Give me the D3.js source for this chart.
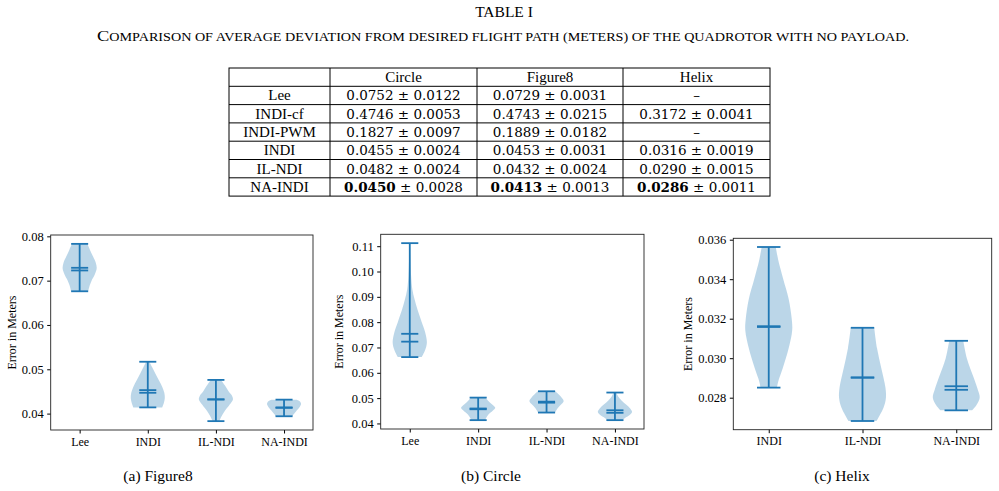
<!DOCTYPE html>
<html>
<head>
<meta charset="utf-8">
<script src="https://cdn.jsdelivr.net/npm/d3@7"></script>
<style>
  body { margin: 0; background: #fff; }
  svg { display: block; }
  text { font-family: "Liberation Serif", "Times New Roman", serif; fill: #000; }
</style>
</head>
<body>
<div id="chart"></div>
<script>
// ---- table data ----
const tableMethods = ["Lee", "INDI-cf", "INDI-PWM", "INDI", "IL-NDI", "NA-INDI"];
const tableColumns = ["Circle", "Figure8", "Helix"];
const circleMeanText = ["0.0752", "0.4746", "0.1827", "0.0455", "0.0482", "0.0450"];
const circleStdText = ["0.0122", "0.0053", "0.0097", "0.0024", "0.0024", "0.0028"];
const figure8MeanText = ["0.0729", "0.4743", "0.1889", "0.0453", "0.0432", "0.0413"];
const figure8StdText = ["0.0031", "0.0215", "0.0182", "0.0031", "0.0024", "0.0013"];
const helixMeanText = [null, "0.3172", null, "0.0316", "0.0290", "0.0286"];
const helixStdText = [null, "0.0041", null, "0.0019", "0.0015", "0.0011"];
const boldMethod = "NA-INDI";

// ---- violin data ----
// shapes: [value, relative half width]
const figure8Methods = ["Lee", "INDI", "IL-NDI", "NA-INDI"];
const figure8Min = [0.0676, 0.0414, 0.0383, 0.0394];
const figure8Max = [0.0783, 0.0517, 0.0476, 0.04315];
const figure8Mean = [0.0729, 0.0453, 0.0432, 0.0414];
const figure8Median = [0.0723, 0.0447, 0.0432, 0.0413];
const figure8Shapes = [
  [[0.0783, 0.45], [0.0770, 0.6], [0.0755, 0.78], [0.0740, 0.95], [0.0728, 1.0], [0.0715, 0.9], [0.0700, 0.7], [0.0690, 0.6], [0.0676, 0.5]],
  [[0.0517, 0.1], [0.0505, 0.25], [0.0490, 0.45], [0.0475, 0.65], [0.0460, 0.85], [0.0447, 0.97], [0.0435, 1.0], [0.0425, 0.95], [0.0414, 0.85]],
  [[0.0476, 0.3], [0.0465, 0.5], [0.0450, 0.75], [0.0440, 0.95], [0.0432, 1.0], [0.0420, 0.8], [0.0405, 0.5], [0.0392, 0.3], [0.0383, 0.2]],
  [[0.04315, 0.75], [0.0428, 0.92], [0.0422, 1.0], [0.0415, 0.92], [0.0405, 0.7], [0.0398, 0.55], [0.0394, 0.5]]
];

const circleMethods = ["Lee", "INDI", "IL-NDI", "NA-INDI"];
const circleMin = [0.0662, 0.0413, 0.0443, 0.0413];
const circleMax = [0.1112, 0.0502, 0.0527, 0.0522];
const circleMean = [0.0754, 0.0456, 0.0482, 0.0452];
const circleMedian = [0.0723, 0.0459, 0.0486, 0.0442];
const circleShapes = [
  [[0.1112, 0.02], [0.105, 0.04], [0.098, 0.08], [0.093, 0.15], [0.089, 0.28], [0.085, 0.45], [0.080, 0.7], [0.076, 0.9], [0.072, 1.0], [0.069, 0.9], [0.0662, 0.7]],
  [[0.0502, 0.4], [0.0490, 0.58], [0.0475, 0.82], [0.0462, 1.0], [0.0450, 0.85], [0.0435, 0.6], [0.0420, 0.45], [0.0413, 0.4]],
  [[0.0527, 0.5], [0.0515, 0.7], [0.0500, 0.9], [0.0488, 1.0], [0.0475, 0.85], [0.0460, 0.65], [0.0443, 0.5]],
  [[0.0522, 0.08], [0.0505, 0.2], [0.0490, 0.4], [0.0475, 0.65], [0.0460, 0.88], [0.0445, 1.0], [0.0430, 0.8], [0.0420, 0.55], [0.0413, 0.45]]
];

const helixMethods = ["INDI", "IL-NDI", "NA-INDI"];
const helixMin = [0.02851, 0.02682, 0.02736];
const helixMax = [0.03563, 0.03154, 0.03088];
const helixMean = [0.03162, 0.02903, 0.02858];
const helixMedian = [0.03158, 0.02901, 0.02840];
const helixShapes = [
  [[0.03563, 0.3], [0.0350, 0.4], [0.0340, 0.62], [0.0330, 0.85], [0.0320, 0.98], [0.0314, 1.0], [0.0305, 0.85], [0.0295, 0.6], [0.0288, 0.4], [0.02851, 0.35]],
  [[0.03154, 0.5], [0.0305, 0.62], [0.0295, 0.8], [0.0285, 0.98], [0.0280, 1.0], [0.0275, 0.9], [0.02682, 0.6]],
  [[0.03088, 0.3], [0.0300, 0.45], [0.0290, 0.75], [0.0284, 0.92], [0.0280, 1.0], [0.0276, 0.85], [0.02736, 0.68]]
];

const figure8Ticks = [0.04, 0.05, 0.06, 0.07, 0.08];
const circleTicks = [0.04, 0.05, 0.06, 0.07, 0.08, 0.09, 0.10, 0.11];
const helixTicks = [0.028, 0.030, 0.032, 0.034, 0.036];

const width = 999, height = 491;
const blue = "#1f77b4";

const svg = d3.select("#chart").append("svg")
  .attr("width", width)
  .attr("height", height);

// ---- title + caption ----
svg.append("text")
  .attr("x", 504).attr("y", 17)
  .attr("text-anchor", "middle")
  .style("font-size", "15.5px")
  .text("TABLE I");

const cap = svg.append("text")
  .attr("x", 97).attr("y", 41)
  .attr("textLength", 812)
  .attr("lengthAdjust", "spacingAndGlyphs");
cap.append("tspan").style("font-size", "15px").text("C");
cap.append("tspan").style("font-size", "11.5px")
  .text("OMPARISON OF AVERAGE DEVIATION FROM DESIRED FLIGHT PATH (METERS) OF THE QUADROTOR WITH NO PAYLOAD.");

// ---- table ----
const colEdges = [229, 330, 477, 623, 770];
const tableTop = 68, rowH = 18.3;
const nRows = tableMethods.length + 1;
const tg = svg.append("g");

tg.append("rect")
  .attr("x", colEdges[0]).attr("y", tableTop)
  .attr("width", colEdges[4] - colEdges[0]).attr("height", rowH * nRows)
  .attr("fill", "none").attr("stroke", "#000").attr("stroke-width", 1);

d3.range(1, nRows).forEach(r => {
  tg.append("line")
    .attr("x1", colEdges[0]).attr("x2", colEdges[4])
    .attr("y1", tableTop + r * rowH).attr("y2", tableTop + r * rowH)
    .attr("stroke", "#000").attr("stroke-width", 1);
});
colEdges.slice(1, 4).forEach(cx => {
  tg.append("line")
    .attr("x1", cx).attr("x2", cx)
    .attr("y1", tableTop).attr("y2", tableTop + rowH * nRows)
    .attr("stroke", "#000").attr("stroke-width", 1);
});

const colCenter = i => (colEdges[i] + colEdges[i + 1]) / 2;
const rowBase = r => tableTop + r * rowH + rowH / 2 + 5;

tableColumns.forEach((c, i) => {
  tg.append("text")
    .attr("x", colCenter(i + 1)).attr("y", rowBase(0))
    .attr("text-anchor", "middle")
    .style("font-size", "15px")
    .text(c);
});

const meanCols = [circleMeanText, figure8MeanText, helixMeanText];
const stdCols = [circleStdText, figure8StdText, helixStdText];

tableMethods.forEach((m, r) => {
  tg.append("text")
    .attr("x", colCenter(0)).attr("y", rowBase(r + 1))
    .attr("text-anchor", "middle")
    .style("font-size", "15px")
    .text(m);

  meanCols.forEach((col, c) => {
    const t = tg.append("text")
      .attr("x", colCenter(c + 1)).attr("y", rowBase(r + 1))
      .attr("text-anchor", "middle")
      .style("font-family", "'DejaVu Serif', serif")
      .style("font-size", "13.5px");
    if (col[r] === null) {
      t.text("\u2013");
      return;
    }
    t.append("tspan")
      .style("font-weight", m === boldMethod ? "bold" : "normal")
      .text(col[r]);
    t.append("tspan").text(" \u00b1 " + stdCols[c][r]);
  });
});

// ---- violin panels ----
function drawPanel(opt) {
  const g = svg.append("g");
  const n = opt.methods.length;

  const x = d3.scaleLinear()
    .domain([1 - opt.pad, n + opt.pad])
    .range([opt.left, opt.right]);

  const lo = d3.min(opt.mins), hi = d3.max(opt.maxs);
  const margin = (hi - lo) * 0.05;
  const y = d3.scaleLinear()
    .domain([lo - margin, hi + margin])
    .range([opt.bottom, opt.top]);

  // axes
  g.append("g")
    .attr("transform", `translate(${opt.left},0)`)
    .call(d3.axisLeft(y)
      .tickValues(opt.ticks)
      .tickFormat(d3.format(opt.fmt))
      .tickSize(3.5)
      .tickPadding(3.5))
    .call(a => a.select(".domain").remove())
    .call(a => a.selectAll("text")
      .style("font-family", "'Liberation Serif', serif")
      .style("font-size", "12.5px"));

  g.append("g")
    .attr("transform", `translate(0,${opt.bottom})`)
    .call(d3.axisBottom(x)
      .tickValues(d3.range(1, n + 1))
      .tickFormat(i => opt.methods[i - 1])
      .tickSize(3.5)
      .tickPadding(3.5))
    .call(a => a.select(".domain").remove())
    .call(a => a.selectAll("text")
      .style("font-family", "'Liberation Serif', serif")
      .style("font-size", "12px"));

  g.append("text")
    .attr("transform", `translate(${opt.labelX},${(opt.top + opt.bottom) / 2}) rotate(-90)`)
    .attr("text-anchor", "middle")
    .style("font-size", "12px")
    .text("Error in Meters");

  // bodies
  opt.shapes.forEach((shape, i) => {
    const pos = i + 1;
    const area = d3.area()
      .y(d => y(d[0]))
      .x0(d => x(pos - 0.25 * d[1]))
      .x1(d => x(pos + 0.25 * d[1]))
      .curve(d3.curveCatmullRom);
    g.append("path")
      .datum(shape)
      .attr("d", area)
      .attr("fill", blue)
      .attr("fill-opacity", 0.3);
  });

  // bars, caps, mean, median
  const hline = (pos, v) => g.append("line")
    .attr("x1", x(pos - 0.125)).attr("x2", x(pos + 0.125))
    .attr("y1", y(v)).attr("y2", y(v))
    .attr("stroke", blue).attr("stroke-width", 1.8);

  opt.methods.forEach((m, i) => {
    const pos = i + 1;
    g.append("line")
      .attr("x1", x(pos)).attr("x2", x(pos))
      .attr("y1", y(opt.mins[i])).attr("y2", y(opt.maxs[i]))
      .attr("stroke", blue).attr("stroke-width", 1.8);
    hline(pos, opt.mins[i]);
    hline(pos, opt.maxs[i]);
    hline(pos, opt.means[i]);
    hline(pos, opt.medians[i]);
  });

  // frame
  g.append("rect")
    .attr("x", opt.left).attr("y", opt.top)
    .attr("width", opt.right - opt.left).attr("height", opt.bottom - opt.top)
    .attr("fill", "none").attr("stroke", "#222").attr("stroke-width", 0.9);

  svg.append("text")
    .attr("x", opt.captionX).attr("y", 481)
    .attr("text-anchor", "middle")
    .style("font-size", "15.5px")
    .text(opt.caption);
}

drawPanel({
  methods: figure8Methods, mins: figure8Min, maxs: figure8Max,
  means: figure8Mean, medians: figure8Median, shapes: figure8Shapes,
  ticks: figure8Ticks, fmt: ".2f", pad: 0.425,
  left: 50.7, right: 313, top: 235, bottom: 430, labelX: 15.5,
  caption: "(a) Figure8", captionX: 158
});

drawPanel({
  methods: circleMethods, mins: circleMin, maxs: circleMax,
  means: circleMean, medians: circleMedian, shapes: circleShapes,
  ticks: circleTicks, fmt: ".2f", pad: 0.425,
  left: 380.7, right: 644, top: 234.3, bottom: 429, labelX: 343,
  caption: "(b) Circle", captionX: 491
});

drawPanel({
  methods: helixMethods, mins: helixMin, maxs: helixMax,
  means: helixMean, medians: helixMedian, shapes: helixShapes,
  ticks: helixTicks, fmt: ".3f", pad: 0.378,
  left: 733.3, right: 991.7, top: 238.3, bottom: 429.7, labelX: 692,
  caption: "(c) Helix", captionX: 842
});
</script>
</body>
</html>
